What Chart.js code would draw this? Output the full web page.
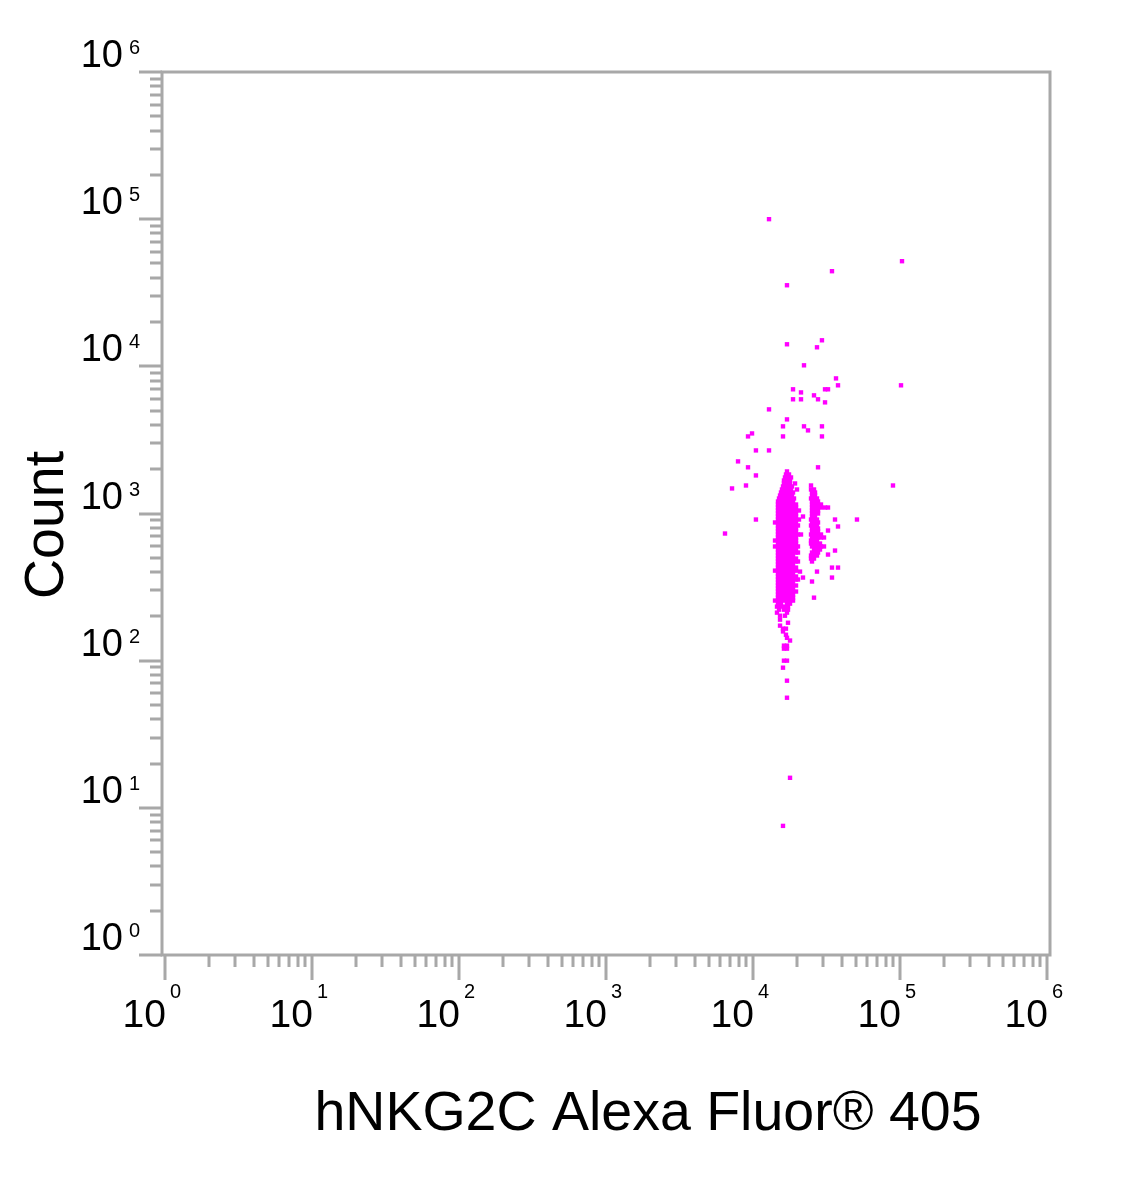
<!DOCTYPE html>
<html>
<head>
<meta charset="utf-8">
<script src="https://cdn.jsdelivr.net/npm/chart.js@4/dist/chart.umd.min.js"></script>
<style>
  html, body { margin: 0; padding: 0; background: #fff; }
  #wrap { width: 1133px; height: 1201px; }
</style>
</head>
<body>
<div id="wrap"><canvas id="flow" width="1133" height="1201"></canvas></div>
<script>
// axis decades (10^0 .. 10^6) and titles
var decades = [0, 1, 2, 3, 4, 5, 6];
var xTitle = 'hNKG2C Alexa Fluor\u00AE 405';
var yTitle = 'Count';

// scattered events, [fluorescence, count]
var outliers = [
  [12850, 100000], [17030, 35560], [34460, 44300], [103200, 51800],
  [17030, 14120], [29450, 15030], [27250, 13470], [22230, 10160],
  [36700, 8280], [37870, 7430], [101600, 7430], [18720, 6980],
  [21210, 6650], [30900, 6980], [32380, 6980], [26000, 6350],
  [18720, 5970], [21210, 5970], [27690, 5970], [30900, 5690],
  [12850, 5100], [17030, 4360], [16000, 3910], [22230, 3910],
  [29450, 3910], [23670, 3670], [9850, 3500], [9250, 3340],
  [16000, 3340], [29450, 3340], [10470, 2683], [12850, 2683],
  [7910, 2260], [9250, 2060], [27690, 2060], [10470, 1814],
  [8960, 1550], [7200, 1480], [89600, 1550], [10470, 910],
  [6450, 731], [21880, 954], [36130, 910], [50970, 910],
  [37870, 816], [32380, 766], [21210, 720], [36130, 560],
  [32380, 526], [34460, 429], [37870, 429], [34460, 367],
  [25200, 345], [21880, 367], [20880, 403], [27250, 403],
  [26000, 268]
];

// main population, rows: [count, [fluorescence values]]
var mainRows = [
  [1931, [17030]],
  [1842, [16760, 17580]],
  [1758, [16500, 17300, 18140]],
  [1676, [16240, 17030, 17860]],
  [1600, [16240, 17030, 17860, 19320]],
  [1527, [16000, 16760, 17580, 18420]],
  [1456, [15740, 16500, 17300, 18140, 19920]],
  [1389, [15500, 16240, 17030, 17860, 18720]],
  [1325, [15270, 16000, 16760, 17580, 18420]],
  [1265, [15030, 15740, 16500, 17300, 18140, 19010]],
  [1207, [14790, 15500, 16240, 17030, 17860, 18720]],
  [1151, [14790, 15500, 16240, 17030, 17860, 18720, 19620]],
  [1098, [14790, 15500, 16240, 17030, 17860, 18720, 19620]],
  [1048, [14790, 15500, 16240, 17030, 17860, 18720, 19620, 20550]],
  [1000, [14790, 15500, 16240, 17030, 17860, 18720, 19620]],
  [954, [14790, 15500, 16240, 17030, 17860, 18720, 19620]],
  [910, [14790, 15500, 16240, 17030, 17860, 18720, 19620, 20550]],
  [869, [14120, 14790, 15500, 16240, 17030, 17860, 18720, 19620]],
  [829, [14790, 15500, 16240, 17030, 17860, 18720, 19620, 20230]],
  [791, [14790, 15500, 16240, 17030, 17860, 18720, 19620]],
  [755, [14790, 15500, 16240, 17030, 17860, 18720, 19620]],
  [720, [14790, 15500, 16240, 17030, 17860, 18720, 19620, 20230]],
  [687, [14790, 15500, 16240, 17030, 17860, 18720, 19620]],
  [655, [14120, 14790, 15500, 16240, 17030, 17860, 18720, 19620]],
  [625, [14790, 15500, 16240, 17030, 17860, 18720, 19620]],
  [597, [14120, 14790, 15500, 16240, 17030, 17860, 18720, 19620, 20230]],
  [569, [14790, 15500, 16240, 17030, 17860, 18720, 19620]],
  [543, [14790, 15500, 16240, 17030, 17860, 18720, 19620, 20230]],
  [518, [14790, 15500, 16240, 17030, 17860, 18720]],
  [494, [14790, 15500, 16240, 17030, 17860, 18720, 19620]],
  [472, [14790, 15500, 16240, 17030, 17860, 18720, 19620, 20230]],
  [450, [14790, 15500, 16240, 17030, 17860, 18720]],
  [429, [14790, 15500, 16240, 17030, 17860, 18720, 19620]],
  [409, [14120, 14790, 15500, 16240, 17030, 17860, 18720, 19620]],
  [391, [14790, 15500, 16240, 17030, 17860, 18720]],
  [373, [14790, 15500, 16240, 17030, 17860, 18720, 19620]],
  [356, [14790, 15500, 16240, 17030, 17860, 18720, 19620, 20230]],
  [339, [14790, 15500, 16240, 17030, 17860, 18720]],
  [324, [14790, 15500, 16240, 17030, 17860, 18720, 19620]],
  [309, [14790, 15500, 16240, 17030, 17860, 18720]],
  [295, [14790, 15500, 16240, 17030, 17860, 18720, 19620]],
  [281, [14790, 15500, 16240, 17030, 17860, 18720]],
  [268, [14790, 15500, 16240, 17030, 17860, 18720]],
  [256, [14120, 14790, 15500, 16240, 17030, 17860, 18720]],
  [244, [14790, 15500, 17030, 17860]],
  [233, [14560, 15500, 16500, 17300]],
  [222, [15030, 16240, 17300]],
  [212, [14560, 17030]],
  [202, [15270, 16500]],
  [190, [15270]],
  [181, [17300]],
  [173, [15270]],
  [165, [16000, 16760]],
  [158, [16000]],
  [150, [16760]],
  [143, [17030]],
  [137, [17860]],
  [126.5, [16240, 17030]],
  [120.7, [16240, 17030]],
  [100, [16240, 17030]],
  [89.6, [16000]],
  [73.1, [17030]],
  [56.0, [17030]],
  [16.0, [17860]],
  [7.54, [16000]]
];

// second (brighter) population, rows: [count, [fluorescence values]]
var sideRows = [
  [1550, [24810]],
  [1456, [24810, 26000]],
  [1389, [25200, 26420]],
  [1325, [25200, 26420]],
  [1265, [24810, 26000, 27250]],
  [1207, [25200, 26420, 27690]],
  [1151, [25200, 26420, 27690, 29010]],
  [1098, [25200, 26420, 27690, 29010, 30900, 32380]],
  [1048, [25200, 26420, 27690]],
  [1000, [25200, 26420, 27690]],
  [954, [25200, 26420]],
  [910, [24810, 26000, 27250]],
  [869, [25200, 26420, 27690]],
  [829, [24810, 26000, 27250]],
  [791, [25200, 26420, 27690]],
  [755, [25200, 26420, 27690]],
  [720, [24810, 26000, 27250, 29010]],
  [687, [25200, 26420, 27690, 29010, 30410]],
  [655, [24810, 26000, 27250]],
  [625, [24810, 26000, 27250, 28560]],
  [597, [25200, 26420, 27690, 29010, 30410]],
  [569, [26000, 27250, 28560]],
  [543, [25200, 26420, 27690]],
  [518, [24810, 26000, 27250]],
  [494, [24810, 26000]],
  [472, [25200]]
];

var points = [];
outliers.forEach(function(p) { points.push({x: p[0], y: p[1]}); });
mainRows.concat(sideRows).forEach(function(row) {
  row[1].forEach(function(v) { points.push({x: v, y: row[0]}); });
});

var frameColor = '#a8a8a8';
var fontFamily = '"Liberation Sans", Arial, sans-serif';

// frame, decade ticks and 10^n labels
var flowAxes = {
  id: 'flowAxes',
  afterDraw: function(chart) {
    var ctx = chart.ctx, a = chart.chartArea;
    var xs = chart.scales.x, ys = chart.scales.y;
    ctx.save();
    ctx.strokeStyle = frameColor;
    ctx.lineWidth = 3;
    ctx.strokeRect(a.left, a.top, a.right - a.left, a.bottom - a.top);

    ctx.beginPath();
    for (var d = 0; d < decades.length; d++) {
      var base = Math.pow(10, decades[d]);
      var steps = d < decades.length - 1 ? 9 : 1;
      for (var m = 1; m <= steps; m++) {
        var v = m * base;
        var major = m === 1;
        var py = Math.round(ys.getPixelForValue(v));
        ctx.moveTo(a.left - (major ? 23 : 12), py);
        ctx.lineTo(a.left, py);
        var px = Math.round(xs.getPixelForValue(v));
        ctx.moveTo(px, a.bottom);
        ctx.lineTo(px, a.bottom + (major ? 25 : 12));
      }
    }
    ctx.stroke();

    ctx.fillStyle = '#000';
    decades.forEach(function(k) {
      var v = Math.pow(10, k);
      var py = ys.getPixelForValue(v);
      ctx.textAlign = 'right';
      ctx.font = '38px ' + fontFamily;
      ctx.fillText('10', a.left - 39, py - 5);
      ctx.textAlign = 'left';
      ctx.font = '20px ' + fontFamily;
      ctx.fillText(String(k), a.left - 33, py - 18);

      var px = xs.getPixelForValue(v);
      ctx.textAlign = 'right';
      ctx.font = '39px ' + fontFamily;
      ctx.fillText('10', px + 1, 1027);
      ctx.textAlign = 'left';
      ctx.font = '20px ' + fontFamily;
      ctx.fillText(String(k), px + 5, 998);
    });

    ctx.font = '55.5px ' + fontFamily;
    ctx.textAlign = 'center';
    ctx.fillText(xTitle, 648, 1130);
    ctx.translate(63, 525);
    ctx.rotate(-Math.PI / 2);
    ctx.fillText(yTitle, 0, 0);
    ctx.restore();
  }
};

var ctx = document.getElementById('flow').getContext('2d');
var flowChart = new Chart(ctx, {
  type: 'scatter',
  data: {
    datasets: [{
      data: points,
      backgroundColor: '#ff00ff',
      pointStyle: 'rect',
      pointRadius: 3.1,
      borderWidth: 0
    }]
  },
  options: {
    responsive: false,
    animation: false,
    events: [],
    layout: { padding: { left: 162, right: 83, top: 72, bottom: 246 } },
    scales: {
      x: { type: 'logarithmic', display: false, min: Math.pow(10, -3 / 147), max: Math.pow(10, 6 + 3 / 147) },
      y: { type: 'logarithmic', display: false, min: 1, max: 1e6 }
    },
    plugins: { legend: { display: false }, tooltip: { enabled: false } }
  },
  plugins: [flowAxes]
});
</script>
</body>
</html>
